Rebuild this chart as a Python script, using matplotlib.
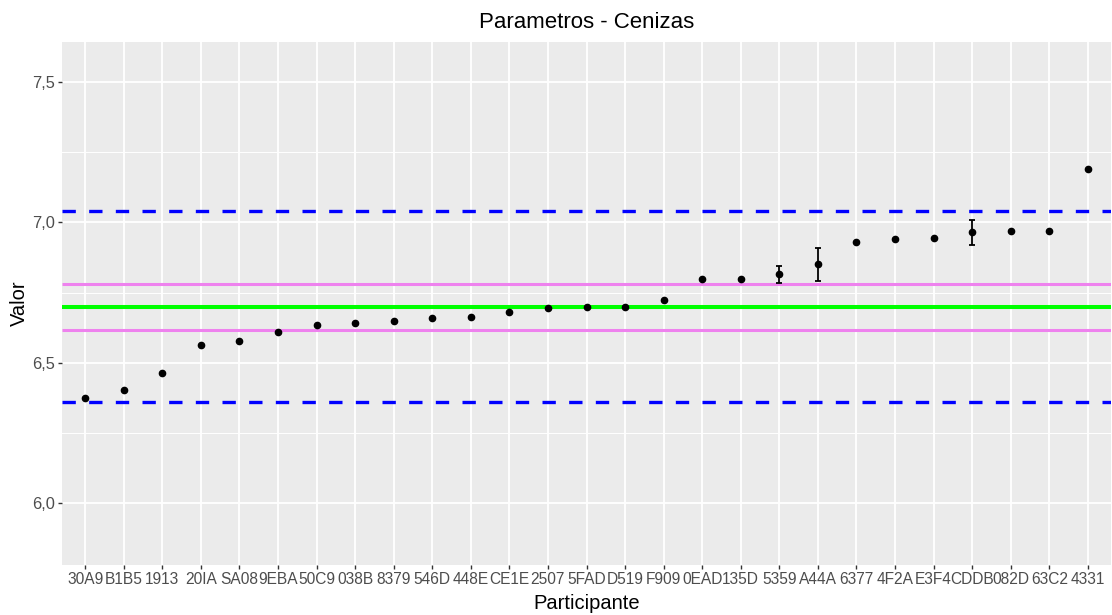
import numpy as np
import matplotlib
matplotlib.use("Agg")
import matplotlib.pyplot as plt
from matplotlib.ticker import FixedLocator, FuncFormatter

plt.rcParams['font.family'] = ['Liberation Sans', 'DejaVu Sans']

# participants, sorted by value
participantes = ['30A9', 'B1B5', '1913', '20IA', 'SA08', '9EBA', '50C9', '038B', '8379',
                 '546D', '448E', 'CE1E', '2507', '5FAD', 'D519', 'F909', '0EAD', '135D',
                 '5359', 'A44A', '6377', '4F2A', 'E3F4', 'CDDB', '082D', '63C2', '4331']
valores = [6.374, 6.404, 6.463, 6.564, 6.578, 6.608, 6.633, 6.641, 6.649,
           6.659, 6.664, 6.681, 6.695, 6.700, 6.700, 6.724, 6.800, 6.800,
           6.815, 6.850, 6.930, 6.941, 6.945, 6.964, 6.970, 6.970, 7.191]
errores = [0, 0, 0, 0, 0, 0, 0, 0, 0,
           0, 0, 0, 0, 0, 0, 0, 0, 0,
           0.030, 0.060, 0, 0, 0, 0.046, 0, 0, 0]

media = 6.70
limites_int = [6.618, 6.781]
limites_ext = [6.359, 7.040]

fig = plt.figure(figsize=(11.12, 6.15), dpi=100)
W, H = 1112, 615
ax = fig.add_axes([62 / W, (H - 565) / H, (1111 - 62) / W, (565 - 42) / H])
ax.set_facecolor('#EBEBEB')
for s in ax.spines.values():
    s.set_visible(False)

x = np.arange(len(participantes))
ax.set_xlim(-0.6, len(participantes) - 1 + 0.6)
ax.set_ylim(5.780, 7.642)

# grid
ax.yaxis.set_major_locator(FixedLocator([6.0, 6.5, 7.0, 7.5]))
ax.yaxis.set_minor_locator(FixedLocator([6.25, 6.75, 7.25]))
ax.yaxis.set_major_formatter(FuncFormatter(lambda v, p: ('%.1f' % v).replace('.', ',')))
ax.set_xticks(x)
ax.set_xticklabels(participantes)
ax.grid(which='major', color='white', linewidth=1.3, zorder=0)
ax.grid(which='minor', axis='y', color='white', linewidth=0.7, zorder=0)
ax.set_axisbelow(True)

# reference lines
for v in limites_ext:
    ax.axhline(v, color='#0000FF', linewidth=2.4, linestyle=(0, (4, 4)),
               dash_capstyle='butt', zorder=2)
for v in limites_int:
    ax.axhline(v, color='#EE82EE', linewidth=2.2, solid_capstyle='butt', zorder=2)
ax.axhline(media, color='#00FF00', linewidth=2.9, solid_capstyle='butt', zorder=2)

# error bars where available
err = np.array(errores)
m = err > 0
ax.errorbar(x[m], np.array(valores)[m], yerr=err[m], fmt='none', ecolor='black',
            elinewidth=1.3, capsize=2, capthick=1.3, zorder=3)
ax.plot(x, valores, 'o', color='black', markersize=4.5, zorder=4)

ax.tick_params(axis='both', which='major', length=3, width=1, color='#333333',
               labelcolor='#4D4D4D', labelsize=11.8, pad=2)
ax.tick_params(axis='x', labelsize=11.2)
ax.tick_params(axis='y', which='minor', length=0)

ax.set_xlabel('Participante', fontsize=14.5, labelpad=5)
ax.set_ylabel('Valor', fontsize=14.5, labelpad=2)
ax.set_title('Parametros - Cenizas', fontsize=16, pad=10)

fig.savefig('out.png', dpi=100)
plt.close()
